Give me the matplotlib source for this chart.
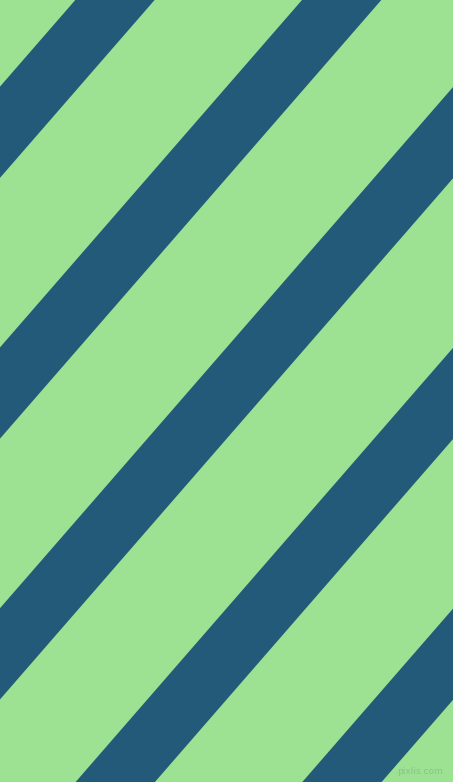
import numpy as np
import matplotlib
matplotlib.use("Agg")
import matplotlib.pyplot as plt

# picture size in pixels
width_px = 453
height_px = 782

# where each dark stripe's left edge meets the top border (px)
stripe_top_x = [75.3, 302.0, 528.7, 755.4, 982.1]
# horizontal thickness of a stripe (px)
stripe_width = 79.3
# stripe tilt, degrees from horizontal
stripe_angle = 49.0

green = "#9de193"
blue = "#245a79"

fig = plt.figure(figsize=(width_px / 100, height_px / 100), dpi=100)
ax = fig.add_axes([0, 0, 1, 1])
ax.set_xlim(0, width_px)
ax.set_ylim(height_px, 0)
ax.axis("off")
fig.patch.set_facecolor(green)
ax.set_facecolor(green)

# shift in x per pixel going down
run = 1 / np.tan(np.radians(stripe_angle))
drop = height_px * run

for x0 in stripe_top_x:
    xs = [x0, x0 + stripe_width, x0 + stripe_width - drop, x0 - drop]
    ys = [0, 0, height_px, height_px]
    ax.fill(xs, ys, color=blue, lw=0, antialiased=True)

# little watermark in the corner
ax.text(443, 772, "pixlis.com", ha="right", va="center", fontsize=6.5,
        color="#86c48d", family="DejaVu Sans")

fig.savefig("out.png", dpi=100, facecolor=green)
